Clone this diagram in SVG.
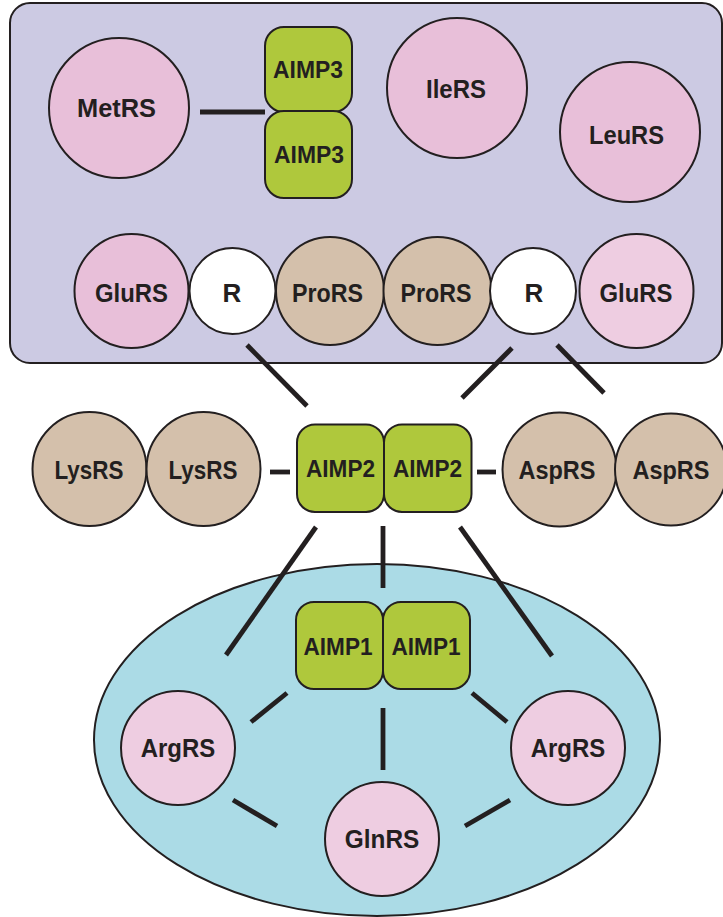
<svg xmlns="http://www.w3.org/2000/svg" width="723" height="917" viewBox="0 0 723 917">
<style>
.o{stroke:#231f20;stroke-width:2}
.pk{fill:#e8bfd9}
.pl{fill:#eecde1}
.tn{fill:#d4c0ab}
.gr{fill:#afc83c}
.wh{fill:#ffffff}
text{font-family:"Liberation Sans",Arial,sans-serif;font-weight:bold;font-size:26px;fill:#231f20;text-anchor:middle}
.a{font-size:23.5px}
#connectors line{stroke:#231f20;stroke-width:4.8}
</style>
<rect width="723" height="917" fill="#ffffff"/>
<g id="cytoplasm-box"><rect x="10" y="3" width="712" height="360" rx="20" fill="#cccae3" class="o"/></g>
<g id="nucleus-ellipse"><ellipse cx="377" cy="740" rx="283" ry="176" fill="#abdbe6" class="o"/></g>
<g id="connectors">
<line x1="200" y1="112" x2="265" y2="112"/>
<line x1="247" y1="345" x2="307" y2="406"/>
<line x1="512" y1="348" x2="462" y2="398"/>
<line x1="557" y1="345" x2="604" y2="393"/>
<line x1="270" y1="472" x2="290" y2="472"/>
<line x1="477" y1="472" x2="496" y2="472"/>
<line x1="316" y1="527" x2="226" y2="655"/>
<line x1="383" y1="526" x2="383" y2="588"/>
<line x1="460" y1="527" x2="552" y2="656"/>
<line x1="287" y1="693" x2="251" y2="722"/>
<line x1="383" y1="708" x2="383" y2="770"/>
<line x1="472" y1="693" x2="507" y2="722"/>
<line x1="233" y1="800" x2="277" y2="826"/>
<line x1="465" y1="826" x2="510" y2="800"/>
</g>
<g id="MetRS"><circle cx="119" cy="108" r="70" class="o pk"/><text x="116.5" y="117" textLength="79" lengthAdjust="spacingAndGlyphs">MetRS</text></g>
<g id="AIMP3-top"><rect x="265" y="27" width="87" height="85" rx="19" class="o gr"/><text class="a" x="308" y="78" textLength="70" lengthAdjust="spacingAndGlyphs">AIMP3</text></g>
<g id="AIMP3-bottom"><rect x="265" y="111" width="87" height="87" rx="19" class="o gr"/><text class="a" x="309" y="163" textLength="70" lengthAdjust="spacingAndGlyphs">AIMP3</text></g>
<g id="IleRS"><circle cx="457" cy="88" r="70" class="o pk"/><text x="456" y="98" textLength="60" lengthAdjust="spacingAndGlyphs">IleRS</text></g>
<g id="LeuRS"><circle cx="630" cy="132" r="70" class="o pk"/><text x="626.5" y="144" textLength="75" lengthAdjust="spacingAndGlyphs">LeuRS</text></g>
<g id="GluRS-left"><circle cx="131.5" cy="291" r="57" class="o pk"/><text x="131.5" y="302" textLength="73" lengthAdjust="spacingAndGlyphs">GluRS</text></g>
<g id="ProRS-left"><circle cx="330" cy="291" r="54" class="o tn"/><text x="327.5" y="302" textLength="71" lengthAdjust="spacingAndGlyphs">ProRS</text></g>
<g id="ProRS-right"><circle cx="437.5" cy="291" r="54" class="o tn"/><text x="436" y="302" textLength="71" lengthAdjust="spacingAndGlyphs">ProRS</text></g>
<g id="R-left"><circle cx="232.5" cy="291" r="43" class="o wh"/><text x="232" y="302">R</text></g>
<g id="R-right"><circle cx="533" cy="291" r="43" class="o wh"/><text x="534" y="302">R</text></g>
<g id="GluRS-right"><circle cx="636.5" cy="291" r="57" class="o pl"/><text x="636" y="302" textLength="73" lengthAdjust="spacingAndGlyphs">GluRS</text></g>
<g id="LysRS-1"><circle cx="89.5" cy="469" r="57" class="o tn"/><text x="89" y="478.5" textLength="69" lengthAdjust="spacingAndGlyphs">LysRS</text></g>
<g id="LysRS-2"><circle cx="203.5" cy="469" r="57" class="o tn"/><text x="203" y="478.5" textLength="69" lengthAdjust="spacingAndGlyphs">LysRS</text></g>
<g id="AIMP2-left"><rect x="297" y="424.5" width="87" height="87.5" rx="18" class="o gr"/><text class="a" x="340.5" y="477" textLength="69" lengthAdjust="spacingAndGlyphs">AIMP2</text></g>
<g id="AIMP2-right"><rect x="384" y="424.5" width="87.5" height="87.5" rx="18" class="o gr"/><text class="a" x="427.5" y="477" textLength="69" lengthAdjust="spacingAndGlyphs">AIMP2</text></g>
<g id="AspRS-1"><circle cx="559.5" cy="469.5" r="57" class="o tn"/><text x="557" y="479" textLength="77" lengthAdjust="spacingAndGlyphs">AspRS</text></g>
<g id="AspRS-2"><circle cx="671" cy="469.5" r="56" class="o tn"/><text x="671" y="479" textLength="77" lengthAdjust="spacingAndGlyphs">AspRS</text></g>
<g id="AIMP1-left"><rect x="296" y="602" width="87" height="87" rx="18" class="o gr"/><text class="a" x="338" y="655" textLength="69" lengthAdjust="spacingAndGlyphs">AIMP1</text></g>
<g id="AIMP1-right"><rect x="383" y="602" width="87" height="87" rx="18" class="o gr"/><text class="a" x="426" y="655" textLength="69" lengthAdjust="spacingAndGlyphs">AIMP1</text></g>
<g id="ArgRS-left"><circle cx="178" cy="748" r="57" class="o pl"/><text x="178" y="757" textLength="74.5" lengthAdjust="spacingAndGlyphs">ArgRS</text></g>
<g id="ArgRS-right"><circle cx="568" cy="748" r="57" class="o pl"/><text x="568" y="757" textLength="74.5" lengthAdjust="spacingAndGlyphs">ArgRS</text></g>
<g id="GlnRS"><circle cx="382" cy="839" r="57" class="o pl"/><text x="382" y="848" textLength="74.5" lengthAdjust="spacingAndGlyphs">GlnRS</text></g>
</svg>
